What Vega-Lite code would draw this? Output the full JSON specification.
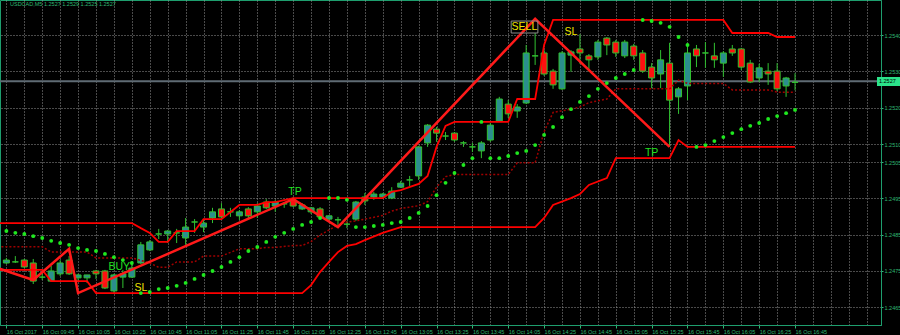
{
  "$schema": "https://vega.github.io/schema/vega-lite/v6.json",
  "width": 881,
  "height": 325,
  "padding": {"left": 0, "top": 0, "right": 19, "bottom": 10},
  "autosize": {"type": "none"},
  "background": "#000000",
  "title": {"text": "USDCAD,M5 1.2527 1.2529 1.2525 1.2527", "anchor": "start", "orient": "top", "frame": "group", "offset": 0, "dx": 10, "dy": 7, "font": "Liberation Sans", "fontSize": 5.5, "fontWeight": "normal", "color": "#2FB872"},
  "config": {"view": {"stroke": "#1E9E6E", "strokeWidth": 1}},
  "datasets": {
    "candles": [
      {"t":"2017-10-16T09:25","o":1.24772,"h":1.24786,"l":1.24769,"c":1.24780},
      {"t":"2017-10-16T09:30","o":1.24775,"h":1.24791,"l":1.24772,"c":1.24775},
      {"t":"2017-10-16T09:35","o":1.24780,"h":1.24783,"l":1.24758,"c":1.24761},
      {"t":"2017-10-16T09:40","o":1.24772,"h":1.24783,"l":1.24714,"c":1.24722},
      {"t":"2017-10-16T09:45","o":1.24733,"h":1.24747,"l":1.24725,"c":1.24733},
      {"t":"2017-10-16T09:50","o":1.24722,"h":1.24764,"l":1.24720,"c":1.24750},
      {"t":"2017-10-16T09:55","o":1.24742,"h":1.24780,"l":1.24736,"c":1.24772},
      {"t":"2017-10-16T10:00","o":1.24780,"h":1.24791,"l":1.24739,"c":1.24742},
      {"t":"2017-10-16T10:05","o":1.24731,"h":1.24742,"l":1.24720,"c":1.24739},
      {"t":"2017-10-16T10:10","o":1.24731,"h":1.24739,"l":1.24717,"c":1.24739},
      {"t":"2017-10-16T10:15","o":1.24750,"h":1.24753,"l":1.24728,"c":1.24742},
      {"t":"2017-10-16T10:20","o":1.24750,"h":1.24753,"l":1.24700,"c":1.24703},
      {"t":"2017-10-16T10:25","o":1.24695,"h":1.24742,"l":1.24689,"c":1.24739},
      {"t":"2017-10-16T10:30","o":1.24733,"h":1.24753,"l":1.24703,"c":1.24742},
      {"t":"2017-10-16T10:35","o":1.24733,"h":1.24769,"l":1.24731,"c":1.24758},
      {"t":"2017-10-16T10:40","o":1.24772,"h":1.24830,"l":1.24769,"c":1.24822},
      {"t":"2017-10-16T10:45","o":1.24808,"h":1.24835,"l":1.24805,"c":1.24830},
      {"t":"2017-10-16T10:50","o":1.24852,"h":1.24866,"l":1.24838,"c":1.24852},
      {"t":"2017-10-16T10:55","o":1.24852,"h":1.24863,"l":1.24827,"c":1.24860},
      {"t":"2017-10-16T11:00","o":1.24855,"h":1.24866,"l":1.24827,"c":1.24855},
      {"t":"2017-10-16T11:05","o":1.24841,"h":1.24896,"l":1.24822,"c":1.24871},
      {"t":"2017-10-16T11:10","o":1.24885,"h":1.24893,"l":1.24855,"c":1.24885},
      {"t":"2017-10-16T11:15","o":1.24871,"h":1.24891,"l":1.24857,"c":1.24882},
      {"t":"2017-10-16T11:20","o":1.24896,"h":1.24924,"l":1.24882,"c":1.24913},
      {"t":"2017-10-16T11:25","o":1.24921,"h":1.24937,"l":1.24896,"c":1.24899},
      {"t":"2017-10-16T11:30","o":1.24913,"h":1.24924,"l":1.24899,"c":1.24913},
      {"t":"2017-10-16T11:35","o":1.24902,"h":1.24918,"l":1.24891,"c":1.24913},
      {"t":"2017-10-16T11:40","o":1.24921,"h":1.24926,"l":1.24896,"c":1.24902},
      {"t":"2017-10-16T11:45","o":1.24913,"h":1.24937,"l":1.24896,"c":1.24929},
      {"t":"2017-10-16T11:50","o":1.24940,"h":1.24948,"l":1.24921,"c":1.24924},
      {"t":"2017-10-16T11:55","o":1.24929,"h":1.24946,"l":1.24913,"c":1.24940},
      {"t":"2017-10-16T12:00","o":1.24935,"h":1.24940,"l":1.24924,"c":1.24935},
      {"t":"2017-10-16T12:05","o":1.24946,"h":1.24954,"l":1.24926,"c":1.24929},
      {"t":"2017-10-16T12:10","o":1.24921,"h":1.24937,"l":1.24918,"c":1.24932},
      {"t":"2017-10-16T12:15","o":1.24913,"h":1.24926,"l":1.24907,"c":1.24924},
      {"t":"2017-10-16T12:20","o":1.24921,"h":1.24926,"l":1.24896,"c":1.24899},
      {"t":"2017-10-16T12:25","o":1.24893,"h":1.24904,"l":1.24888,"c":1.24902},
      {"t":"2017-10-16T12:30","o":1.24891,"h":1.24899,"l":1.24871,"c":1.24891},
      {"t":"2017-10-16T12:35","o":1.24879,"h":1.24888,"l":1.24868,"c":1.24879},
      {"t":"2017-10-16T12:40","o":1.24893,"h":1.24943,"l":1.24888,"c":1.24940},
      {"t":"2017-10-16T12:45","o":1.24954,"h":1.24965,"l":1.24932,"c":1.24943},
      {"t":"2017-10-16T12:50","o":1.24954,"h":1.24968,"l":1.24946,"c":1.24962},
      {"t":"2017-10-16T12:55","o":1.24954,"h":1.24965,"l":1.24951,"c":1.24962},
      {"t":"2017-10-16T13:00","o":1.24951,"h":1.24981,"l":1.24948,"c":1.24970},
      {"t":"2017-10-16T13:05","o":1.24981,"h":1.24998,"l":1.24979,"c":1.24992},
      {"t":"2017-10-16T13:10","o":1.25001,"h":1.25012,"l":1.24984,"c":1.25001},
      {"t":"2017-10-16T13:15","o":1.25012,"h":1.25095,"l":1.25001,"c":1.25092},
      {"t":"2017-10-16T13:20","o":1.25103,"h":1.25155,"l":1.25092,"c":1.25152},
      {"t":"2017-10-16T13:25","o":1.25141,"h":1.25147,"l":1.25106,"c":1.25130},
      {"t":"2017-10-16T13:30","o":1.25122,"h":1.25133,"l":1.25111,"c":1.25122},
      {"t":"2017-10-16T13:35","o":1.25130,"h":1.25133,"l":1.25106,"c":1.25111},
      {"t":"2017-10-16T13:40","o":1.25103,"h":1.25108,"l":1.25092,"c":1.25103},
      {"t":"2017-10-16T13:45","o":1.25092,"h":1.25103,"l":1.25078,"c":1.25092},
      {"t":"2017-10-16T13:50","o":1.25081,"h":1.25108,"l":1.25061,"c":1.25103},
      {"t":"2017-10-16T13:55","o":1.25111,"h":1.25158,"l":1.25106,"c":1.25152},
      {"t":"2017-10-16T14:00","o":1.25163,"h":1.25230,"l":1.25161,"c":1.25224},
      {"t":"2017-10-16T14:05","o":1.25210,"h":1.25221,"l":1.25172,"c":1.25183},
      {"t":"2017-10-16T14:10","o":1.25191,"h":1.25210,"l":1.25172,"c":1.25202},
      {"t":"2017-10-16T14:15","o":1.25213,"h":1.25373,"l":1.25210,"c":1.25351},
      {"t":"2017-10-16T14:20","o":1.25343,"h":1.25406,"l":1.25318,"c":1.25343},
      {"t":"2017-10-16T14:25","o":1.25351,"h":1.25359,"l":1.25288,"c":1.25293},
      {"t":"2017-10-16T14:30","o":1.25301,"h":1.25307,"l":1.25252,"c":1.25263},
      {"t":"2017-10-16T14:35","o":1.25252,"h":1.25356,"l":1.25249,"c":1.25351},
      {"t":"2017-10-16T14:40","o":1.25345,"h":1.25359,"l":1.25299,"c":1.25354},
      {"t":"2017-10-16T14:45","o":1.25362,"h":1.25403,"l":1.25321,"c":1.25351},
      {"t":"2017-10-16T14:50","o":1.25343,"h":1.25348,"l":1.25299,"c":1.25332},
      {"t":"2017-10-16T14:55","o":1.25340,"h":1.25387,"l":1.25332,"c":1.25381},
      {"t":"2017-10-16T15:00","o":1.25392,"h":1.25395,"l":1.25345,"c":1.25373},
      {"t":"2017-10-16T15:05","o":1.25381,"h":1.25387,"l":1.25340,"c":1.25351},
      {"t":"2017-10-16T15:10","o":1.25343,"h":1.25387,"l":1.25337,"c":1.25381},
      {"t":"2017-10-16T15:15","o":1.25370,"h":1.25376,"l":1.25332,"c":1.25343},
      {"t":"2017-10-16T15:20","o":1.25351,"h":1.25359,"l":1.25296,"c":1.25301},
      {"t":"2017-10-16T15:25","o":1.25312,"h":1.25323,"l":1.25254,"c":1.25282},
      {"t":"2017-10-16T15:30","o":1.25293,"h":1.25359,"l":1.25254,"c":1.25332},
      {"t":"2017-10-16T15:35","o":1.25323,"h":1.25379,"l":1.25092,"c":1.25221},
      {"t":"2017-10-16T15:40","o":1.25230,"h":1.25257,"l":1.25183,"c":1.25252},
      {"t":"2017-10-16T15:45","o":1.25260,"h":1.25373,"l":1.25221,"c":1.25351},
      {"t":"2017-10-16T15:50","o":1.25362,"h":1.25373,"l":1.25312,"c":1.25343},
      {"t":"2017-10-16T15:55","o":1.25351,"h":1.25381,"l":1.25310,"c":1.25351},
      {"t":"2017-10-16T16:00","o":1.25343,"h":1.25379,"l":1.25310,"c":1.25332},
      {"t":"2017-10-16T16:05","o":1.25323,"h":1.25356,"l":1.25285,"c":1.25351},
      {"t":"2017-10-16T16:10","o":1.25362,"h":1.25373,"l":1.25343,"c":1.25351},
      {"t":"2017-10-16T16:15","o":1.25362,"h":1.25365,"l":1.25304,"c":1.25312},
      {"t":"2017-10-16T16:20","o":1.25323,"h":1.25332,"l":1.25268,"c":1.25271},
      {"t":"2017-10-16T16:25","o":1.25282,"h":1.25321,"l":1.25271,"c":1.25310},
      {"t":"2017-10-16T16:30","o":1.25301,"h":1.25323,"l":1.25263,"c":1.25293},
      {"t":"2017-10-16T16:35","o":1.25301,"h":1.25323,"l":1.25246,"c":1.25252},
      {"t":"2017-10-16T16:40","o":1.25260,"h":1.25285,"l":1.25230,"c":1.25282},
      {"t":"2017-10-16T16:45","o":1.25270,"h":1.25295,"l":1.25248,"c":1.25270}
    ],
    "sar": [
      {"t":"2017-10-16T09:25","p":1.24860},{"t":"2017-10-16T09:30","p":1.24855},{"t":"2017-10-16T09:35","p":1.24852},{"t":"2017-10-16T09:40","p":1.24846},
      {"t":"2017-10-16T09:45","p":1.24841},{"t":"2017-10-16T09:50","p":1.24833},{"t":"2017-10-16T09:55","p":1.24827},{"t":"2017-10-16T10:00","p":1.24822},
      {"t":"2017-10-16T10:05","p":1.24813},{"t":"2017-10-16T10:10","p":1.24808},{"t":"2017-10-16T10:15","p":1.24805},{"t":"2017-10-16T10:20","p":1.24797},
      {"t":"2017-10-16T10:25","p":1.24788},{"t":"2017-10-16T10:30","p":1.24780},{"t":"2017-10-16T10:35","p":1.24772},{"t":"2017-10-16T10:40","p":1.24689},
      {"t":"2017-10-16T10:45","p":1.24692},{"t":"2017-10-16T10:50","p":1.24700},{"t":"2017-10-16T10:55","p":1.24703},{"t":"2017-10-16T11:00","p":1.24709},
      {"t":"2017-10-16T11:05","p":1.24717},{"t":"2017-10-16T11:10","p":1.24728},{"t":"2017-10-16T11:15","p":1.24739},{"t":"2017-10-16T11:20","p":1.24750},
      {"t":"2017-10-16T11:25","p":1.24761},{"t":"2017-10-16T11:30","p":1.24775},{"t":"2017-10-16T11:35","p":1.24788},{"t":"2017-10-16T11:40","p":1.24805},
      {"t":"2017-10-16T11:45","p":1.24816},{"t":"2017-10-16T11:50","p":1.24830},{"t":"2017-10-16T11:55","p":1.24844},{"t":"2017-10-16T12:00","p":1.24855},
      {"t":"2017-10-16T12:05","p":1.24866},{"t":"2017-10-16T12:10","p":1.24877},{"t":"2017-10-16T12:15","p":1.24885},{"t":"2017-10-16T12:20","p":1.24896},
      {"t":"2017-10-16T12:25","p":1.24951},{"t":"2017-10-16T12:30","p":1.24951},{"t":"2017-10-16T12:35","p":1.24946},{"t":"2017-10-16T12:40","p":1.24871},
      {"t":"2017-10-16T12:45","p":1.24871},{"t":"2017-10-16T12:50","p":1.24874},{"t":"2017-10-16T12:55","p":1.24877},{"t":"2017-10-16T13:00","p":1.24882},
      {"t":"2017-10-16T13:05","p":1.24885},{"t":"2017-10-16T13:10","p":1.24896},{"t":"2017-10-16T13:15","p":1.24910},{"t":"2017-10-16T13:20","p":1.24929},
      {"t":"2017-10-16T13:25","p":1.24959},{"t":"2017-10-16T13:30","p":1.24993},{"t":"2017-10-16T13:35","p":1.25020},{"t":"2017-10-16T13:40","p":1.25042},
      {"t":"2017-10-16T13:45","p":1.25061},{"t":"2017-10-16T13:50","p":1.25161},{"t":"2017-10-16T13:55","p":1.25061},{"t":"2017-10-16T14:00","p":1.25061},
      {"t":"2017-10-16T14:05","p":1.25067},{"t":"2017-10-16T14:10","p":1.25075},{"t":"2017-10-16T14:15","p":1.25081},{"t":"2017-10-16T14:20","p":1.25097},
      {"t":"2017-10-16T14:25","p":1.25125},{"t":"2017-10-16T14:30","p":1.25147},{"t":"2017-10-16T14:35","p":1.25174},{"t":"2017-10-16T14:40","p":1.25196},
      {"t":"2017-10-16T14:45","p":1.25216},{"t":"2017-10-16T14:50","p":1.25232},{"t":"2017-10-16T14:55","p":1.25252},{"t":"2017-10-16T15:00","p":1.25268},
      {"t":"2017-10-16T15:05","p":1.25282},{"t":"2017-10-16T15:10","p":1.25293},{"t":"2017-10-16T15:15","p":1.25304},{"t":"2017-10-16T15:20","p":1.25442},
      {"t":"2017-10-16T15:25","p":1.25439},{"t":"2017-10-16T15:30","p":1.25434},{"t":"2017-10-16T15:35","p":1.25423},{"t":"2017-10-16T15:40","p":1.25395},
      {"t":"2017-10-16T15:45","p":1.25373},{"t":"2017-10-16T15:50","p":1.25092},{"t":"2017-10-16T15:55","p":1.25097},{"t":"2017-10-16T16:00","p":1.25108},
      {"t":"2017-10-16T16:05","p":1.25119},{"t":"2017-10-16T16:10","p":1.25130},{"t":"2017-10-16T16:15","p":1.25141},{"t":"2017-10-16T16:20","p":1.25150},
      {"t":"2017-10-16T16:25","p":1.25158},{"t":"2017-10-16T16:30","p":1.25169},{"t":"2017-10-16T16:35","p":1.25177},{"t":"2017-10-16T16:40","p":1.25185},
      {"t":"2017-10-16T16:45","p":1.25194}
    ],
    "up": [
      {"t":"2017-10-16T09:20","p":1.24882},{"t":"2017-10-16T10:35","p":1.24882},{"t":"2017-10-16T10:40","p":1.24868},{"t":"2017-10-16T10:45","p":1.24855},
      {"t":"2017-10-16T10:50","p":1.24830},{"t":"2017-10-16T10:55","p":1.24830},{"t":"2017-10-16T11:00","p":1.24860},{"t":"2017-10-16T11:10","p":1.24860},
      {"t":"2017-10-16T11:15","p":1.24893},{"t":"2017-10-16T11:25","p":1.24893},{"t":"2017-10-16T11:35","p":1.24932},{"t":"2017-10-16T11:45","p":1.24932},
      {"t":"2017-10-16T11:50","p":1.24940},{"t":"2017-10-16T11:55","p":1.24940},{"t":"2017-10-16T12:05","p":1.24951},{"t":"2017-10-16T12:55","p":1.24951},
      {"t":"2017-10-16T13:00","p":1.24968},{"t":"2017-10-16T13:05","p":1.24973},{"t":"2017-10-16T13:15","p":1.24990},{"t":"2017-10-16T13:20","p":1.25012},
      {"t":"2017-10-16T13:25","p":1.25092},{"t":"2017-10-16T13:30","p":1.25150},{"t":"2017-10-16T13:35","p":1.25161},{"t":"2017-10-16T14:05","p":1.25161},
      {"t":"2017-10-16T14:10","p":1.25224},{"t":"2017-10-16T14:20","p":1.25224},{"t":"2017-10-16T14:25","p":1.25373},{"t":"2017-10-16T14:30","p":1.25442},
      {"t":"2017-10-16T16:05","p":1.25442},{"t":"2017-10-16T16:10","p":1.25406},{"t":"2017-10-16T16:30","p":1.25406},{"t":"2017-10-16T16:35","p":1.25395},
      {"t":"2017-10-16T16:45","p":1.25395}
    ],
    "lo": [
      {"t":"2017-10-16T09:20","p":1.24753},{"t":"2017-10-16T09:45","p":1.24753},{"t":"2017-10-16T09:50","p":1.24722},{"t":"2017-10-16T10:10","p":1.24722},
      {"t":"2017-10-16T10:15","p":1.24689},{"t":"2017-10-16T12:10","p":1.24689},{"t":"2017-10-16T12:15","p":1.24711},{"t":"2017-10-16T12:20","p":1.24747},
      {"t":"2017-10-16T12:25","p":1.24775},{"t":"2017-10-16T12:30","p":1.24802},{"t":"2017-10-16T12:35","p":1.24819},{"t":"2017-10-16T12:40","p":1.24824},
      {"t":"2017-10-16T12:45","p":1.24835},{"t":"2017-10-16T12:55","p":1.24855},{"t":"2017-10-16T13:05","p":1.24871},{"t":"2017-10-16T14:20","p":1.24871},
      {"t":"2017-10-16T14:25","p":1.24896},{"t":"2017-10-16T14:30","p":1.24932},{"t":"2017-10-16T14:40","p":1.24951},{"t":"2017-10-16T14:45","p":1.24962},
      {"t":"2017-10-16T14:50","p":1.24987},{"t":"2017-10-16T15:00","p":1.25006},{"t":"2017-10-16T15:05","p":1.25061},{"t":"2017-10-16T15:35","p":1.25061},
      {"t":"2017-10-16T15:40","p":1.25111},{"t":"2017-10-16T15:45","p":1.25092},{"t":"2017-10-16T16:45","p":1.25092}
    ],
    "mid": [
      {"t":"2017-10-16T09:20","p":1.24817},{"t":"2017-10-16T09:45","p":1.24817},{"t":"2017-10-16T09:50","p":1.24802},{"t":"2017-10-16T10:10","p":1.24802},
      {"t":"2017-10-16T10:15","p":1.24786},{"t":"2017-10-16T10:35","p":1.24786},{"t":"2017-10-16T10:40","p":1.24779},{"t":"2017-10-16T10:45","p":1.24772},
      {"t":"2017-10-16T10:50","p":1.24760},{"t":"2017-10-16T10:55","p":1.24760},{"t":"2017-10-16T11:00","p":1.24775},{"t":"2017-10-16T11:10","p":1.24775},
      {"t":"2017-10-16T11:15","p":1.24791},{"t":"2017-10-16T11:25","p":1.24791},{"t":"2017-10-16T11:35","p":1.24811},{"t":"2017-10-16T11:45","p":1.24811},
      {"t":"2017-10-16T11:50","p":1.24815},{"t":"2017-10-16T11:55","p":1.24815},{"t":"2017-10-16T12:05","p":1.24820},{"t":"2017-10-16T12:10","p":1.24820},
      {"t":"2017-10-16T12:15","p":1.24831},{"t":"2017-10-16T12:20","p":1.24849},{"t":"2017-10-16T12:25","p":1.24863},{"t":"2017-10-16T12:30","p":1.24877},
      {"t":"2017-10-16T12:35","p":1.24885},{"t":"2017-10-16T12:40","p":1.24888},{"t":"2017-10-16T12:45","p":1.24893},{"t":"2017-10-16T12:55","p":1.24903},
      {"t":"2017-10-16T13:00","p":1.24915},{"t":"2017-10-16T13:05","p":1.24922},{"t":"2017-10-16T13:15","p":1.24930},{"t":"2017-10-16T13:20","p":1.24941},
      {"t":"2017-10-16T13:25","p":1.24981},{"t":"2017-10-16T13:30","p":1.25010},{"t":"2017-10-16T13:35","p":1.25016},{"t":"2017-10-16T14:05","p":1.25016},
      {"t":"2017-10-16T14:10","p":1.25048},{"t":"2017-10-16T14:20","p":1.25048},{"t":"2017-10-16T14:25","p":1.25134},{"t":"2017-10-16T14:30","p":1.25187},
      {"t":"2017-10-16T14:40","p":1.25196},{"t":"2017-10-16T14:45","p":1.25202},{"t":"2017-10-16T14:50","p":1.25214},{"t":"2017-10-16T15:00","p":1.25224},
      {"t":"2017-10-16T15:05","p":1.25252},{"t":"2017-10-16T15:35","p":1.25252},{"t":"2017-10-16T15:40","p":1.25276},{"t":"2017-10-16T15:45","p":1.25267},
      {"t":"2017-10-16T16:05","p":1.25267},{"t":"2017-10-16T16:10","p":1.25249},{"t":"2017-10-16T16:30","p":1.25249},{"t":"2017-10-16T16:35","p":1.25243},
      {"t":"2017-10-16T16:45","p":1.25243}
    ],
    "trade": [
      {"t":"2017-10-16T09:20","p":1.24758},{"t":"2017-10-16T09:40","p":1.24725},{"t":"2017-10-16T10:00","p":1.24811},{"t":"2017-10-16T10:05","p":1.24689},
      {"t":"2017-10-16T12:05","p":1.24948},{"t":"2017-10-16T12:30","p":1.24871},{"t":"2017-10-16T14:20","p":1.25445},{"t":"2017-10-16T15:35","p":1.25092}
    ],
    "labels": [
      {"t":"2017-10-16T10:28","p":1.24762,"txt":"BUY"},
      {"t":"2017-10-16T10:40","p":1.24702,"txt":"SL"},
      {"t":"2017-10-16T12:06","p":1.24969,"txt":"TP"},
      {"t":"2017-10-16T14:14","p":1.25423,"txt":"SELL"},
      {"t":"2017-10-16T14:40","p":1.25410,"txt":"SL"},
      {"t":"2017-10-16T15:25","p":1.25075,"txt":"TP"}
    ]
  },
  "layer": [
    {
      "data": {"values": [{}]},
      "mark": {"type": "rule", "color": "#5F6B74", "strokeWidth": 2},
      "encoding": {
        "y": {"datum": 1.25273, "type": "quantitative", "title": null, "scale": {"domain": [1.24601, 1.25497], "nice": false, "zero": false}}
      }
    },
    {
      "data": {"name": "candles"},
      "mark": {"type": "rule", "color": "#31C131", "strokeWidth": 1},
      "encoding": {
        "x": {"field": "t", "type": "temporal", "title": null,
          "scale": {"domain": [{"year":2017,"month":10,"date":16,"hours":9,"minutes":24,"seconds":14},{"year":2017,"month":10,"date":16,"hours":17,"minutes":30,"seconds":10}], "nice": false},
          "axis": {"orient": "bottom", "title": null, "tickCount": 100,
            "values": [
              {"year":2017,"month":10,"date":16,"hours":9,"minutes":25},{"year":2017,"month":10,"date":16,"hours":9,"minutes":35},{"year":2017,"month":10,"date":16,"hours":9,"minutes":45},{"year":2017,"month":10,"date":16,"hours":9,"minutes":55},
              {"year":2017,"month":10,"date":16,"hours":10,"minutes":5},{"year":2017,"month":10,"date":16,"hours":10,"minutes":15},{"year":2017,"month":10,"date":16,"hours":10,"minutes":25},{"year":2017,"month":10,"date":16,"hours":10,"minutes":35},{"year":2017,"month":10,"date":16,"hours":10,"minutes":45},{"year":2017,"month":10,"date":16,"hours":10,"minutes":55},
              {"year":2017,"month":10,"date":16,"hours":11,"minutes":5},{"year":2017,"month":10,"date":16,"hours":11,"minutes":15},{"year":2017,"month":10,"date":16,"hours":11,"minutes":25},{"year":2017,"month":10,"date":16,"hours":11,"minutes":35},{"year":2017,"month":10,"date":16,"hours":11,"minutes":45},{"year":2017,"month":10,"date":16,"hours":11,"minutes":55},
              {"year":2017,"month":10,"date":16,"hours":12,"minutes":5},{"year":2017,"month":10,"date":16,"hours":12,"minutes":15},{"year":2017,"month":10,"date":16,"hours":12,"minutes":25},{"year":2017,"month":10,"date":16,"hours":12,"minutes":35},{"year":2017,"month":10,"date":16,"hours":12,"minutes":45},{"year":2017,"month":10,"date":16,"hours":12,"minutes":55},
              {"year":2017,"month":10,"date":16,"hours":13,"minutes":5},{"year":2017,"month":10,"date":16,"hours":13,"minutes":15},{"year":2017,"month":10,"date":16,"hours":13,"minutes":25},{"year":2017,"month":10,"date":16,"hours":13,"minutes":35},{"year":2017,"month":10,"date":16,"hours":13,"minutes":45},{"year":2017,"month":10,"date":16,"hours":13,"minutes":55},
              {"year":2017,"month":10,"date":16,"hours":14,"minutes":5},{"year":2017,"month":10,"date":16,"hours":14,"minutes":15},{"year":2017,"month":10,"date":16,"hours":14,"minutes":25},{"year":2017,"month":10,"date":16,"hours":14,"minutes":35},{"year":2017,"month":10,"date":16,"hours":14,"minutes":45},{"year":2017,"month":10,"date":16,"hours":14,"minutes":55},
              {"year":2017,"month":10,"date":16,"hours":15,"minutes":5},{"year":2017,"month":10,"date":16,"hours":15,"minutes":15},{"year":2017,"month":10,"date":16,"hours":15,"minutes":25},{"year":2017,"month":10,"date":16,"hours":15,"minutes":35},{"year":2017,"month":10,"date":16,"hours":15,"minutes":45},{"year":2017,"month":10,"date":16,"hours":15,"minutes":55},
              {"year":2017,"month":10,"date":16,"hours":16,"minutes":5},{"year":2017,"month":10,"date":16,"hours":16,"minutes":15},{"year":2017,"month":10,"date":16,"hours":16,"minutes":25},{"year":2017,"month":10,"date":16,"hours":16,"minutes":35},{"year":2017,"month":10,"date":16,"hours":16,"minutes":45},{"year":2017,"month":10,"date":16,"hours":16,"minutes":55},
              {"year":2017,"month":10,"date":16,"hours":17,"minutes":5},{"year":2017,"month":10,"date":16,"hours":17,"minutes":15},{"year":2017,"month":10,"date":16,"hours":17,"minutes":25}
            ],
            "labelExpr": "hours(datum.value) == 9 && minutes(datum.value) == 25 ? '16 Oct 2017' : ((minutes(datum.value) % 20 == 5 && datum.value <= datetime(2017, 9, 16, 16, 45)) ? timeFormat(datum.value, '%d %b %H:%M') : '')",
            "labelAlign": "left", "labelBaseline": "top", "labelFont": "Liberation Sans", "labelFontSize": 5.5,
            "labelColor": "#2FB872", "labelPadding": 1, "labelOverlap": false, "labelFlush": false,
            "tickSize": 3, "tickColor": "#2FB872",
            "tickOpacity": {"condition": {"test": "minutes(datum.value) % 20 == 5 && datum.value <= datetime(2017, 9, 16, 16, 45)", "value": 1}, "value": 0},
            "domainColor": "#1E9E6E", "domainWidth": 1,
            "grid": true, "gridColor": "#959595", "gridDash": [1, 2], "gridOpacity": 1, "gridWidth": 1}
        },
        "y": {"field": "l", "type": "quantitative", "title": null,
          "scale": {"domain": [1.24601, 1.25497], "nice": false, "zero": false},
          "axis": {"orient": "right", "title": null, "tickCount": 30,
            "values": [1.2465, 1.2475, 1.2485, 1.2495, 1.2505, 1.251, 1.252, 1.253, 1.254],
            "format": ".4f", "labelColor": "#2FB872", "labelFont": "Liberation Sans", "labelFontSize": 5.5,
            "labelPadding": 1, "labelOverlap": false, "labelFlush": false, "tickSize": 2, "tickColor": "#2FB872",
            "domainColor": "#1E9E6E", "domainWidth": 1,
            "grid": true, "gridColor": "#959595", "gridDash": [1, 2], "gridOpacity": 1, "gridWidth": 1}
        },
        "y2": {"field": "h"}
      }
    },
    {
      "data": {"name": "candles"},
      "mark": {"type": "bar", "size": 6, "stroke": "#31C131", "strokeWidth": 1, "clip": true},
      "encoding": {
        "x": {"field": "t", "type": "temporal", "title": null, "scale": {"domain": [{"year":2017,"month":10,"date":16,"hours":9,"minutes":24,"seconds":14},{"year":2017,"month":10,"date":16,"hours":17,"minutes":30,"seconds":10}], "nice": false}},
        "y": {"field": "o", "type": "quantitative", "title": null, "scale": {"domain": [1.24601, 1.25497], "nice": false, "zero": false}},
        "y2": {"field": "c"},
        "fill": {"condition": [{"test": "datum.c > datum.o", "value": "#2B8E8E"}, {"test": "datum.c < datum.o", "value": "#FF1010"}], "value": "transparent"}
      }
    },
    {
      "data": {"name": "mid"},
      "mark": {"type": "line", "clip": true, "color": "#A00000", "strokeWidth": 1.5, "strokeDash": [2, 2]},
      "encoding": {
        "x": {"field": "t", "type": "temporal", "title": null, "scale": {"domain": [{"year":2017,"month":10,"date":16,"hours":9,"minutes":24,"seconds":14},{"year":2017,"month":10,"date":16,"hours":17,"minutes":30,"seconds":10}], "nice": false}},
        "y": {"field": "p", "type": "quantitative", "title": null, "scale": {"domain": [1.24601, 1.25497], "nice": false, "zero": false}}
      }
    },
    {
      "data": {"name": "up"},
      "mark": {"type": "line", "clip": true, "color": "#FF0000", "strokeWidth": 1.8},
      "encoding": {
        "x": {"field": "t", "type": "temporal", "title": null, "scale": {"domain": [{"year":2017,"month":10,"date":16,"hours":9,"minutes":24,"seconds":14},{"year":2017,"month":10,"date":16,"hours":17,"minutes":30,"seconds":10}], "nice": false}},
        "y": {"field": "p", "type": "quantitative", "title": null, "scale": {"domain": [1.24601, 1.25497], "nice": false, "zero": false}}
      }
    },
    {
      "data": {"name": "lo"},
      "mark": {"type": "line", "clip": true, "color": "#FF0000", "strokeWidth": 1.8},
      "encoding": {
        "x": {"field": "t", "type": "temporal", "title": null, "scale": {"domain": [{"year":2017,"month":10,"date":16,"hours":9,"minutes":24,"seconds":14},{"year":2017,"month":10,"date":16,"hours":17,"minutes":30,"seconds":10}], "nice": false}},
        "y": {"field": "p", "type": "quantitative", "title": null, "scale": {"domain": [1.24601, 1.25497], "nice": false, "zero": false}}
      }
    },
    {
      "data": {"name": "trade"},
      "mark": {"type": "line", "clip": true, "color": "#FF1A1A", "strokeWidth": 2.5},
      "encoding": {
        "x": {"field": "t", "type": "temporal", "title": null, "scale": {"domain": [{"year":2017,"month":10,"date":16,"hours":9,"minutes":24,"seconds":14},{"year":2017,"month":10,"date":16,"hours":17,"minutes":30,"seconds":10}], "nice": false}},
        "y": {"field": "p", "type": "quantitative", "title": null, "scale": {"domain": [1.24601, 1.25497], "nice": false, "zero": false}}
      }
    },
    {
      "data": {"name": "sar"},
      "mark": {"type": "point", "shape": "circle", "filled": true, "size": 15, "color": "#1FE81F", "opacity": 1, "clip": true},
      "encoding": {
        "x": {"field": "t", "type": "temporal", "title": null, "scale": {"domain": [{"year":2017,"month":10,"date":16,"hours":9,"minutes":24,"seconds":14},{"year":2017,"month":10,"date":16,"hours":17,"minutes":30,"seconds":10}], "nice": false}},
        "y": {"field": "p", "type": "quantitative", "title": null, "scale": {"domain": [1.24601, 1.25497], "nice": false, "zero": false}}
      }
    },
    {
      "data": {"values": [{}]},
      "mark": {"type": "bar", "fill": "transparent", "stroke": "#8C8C8C", "strokeWidth": 1},
      "encoding": {
        "x": {"datum": {"year":2017,"month":10,"date":16,"hours":14,"minutes":6,"seconds":38}, "type": "temporal", "title": null, "scale": {"domain": [{"year":2017,"month":10,"date":16,"hours":9,"minutes":24,"seconds":14},{"year":2017,"month":10,"date":16,"hours":17,"minutes":30,"seconds":10}], "nice": false}},
        "x2": {"datum": {"year":2017,"month":10,"date":16,"hours":14,"minutes":21,"seconds":32}},
        "y": {"datum": 1.25439, "type": "quantitative", "title": null, "scale": {"domain": [1.24601, 1.25497], "nice": false, "zero": false}},
        "y2": {"datum": 1.25406}
      }
    },
    {
      "data": {"name": "labels"},
      "mark": {"type": "text", "font": "Liberation Sans", "fontSize": 10.5, "align": "center", "baseline": "middle"},
      "encoding": {
        "x": {"field": "t", "type": "temporal", "title": null, "scale": {"domain": [{"year":2017,"month":10,"date":16,"hours":9,"minutes":24,"seconds":14},{"year":2017,"month":10,"date":16,"hours":17,"minutes":30,"seconds":10}], "nice": false}},
        "y": {"field": "p", "type": "quantitative", "title": null, "scale": {"domain": [1.24601, 1.25497], "nice": false, "zero": false}},
        "text": {"field": "txt"},
        "color": {"condition": {"test": "datum.txt == 'SELL' || datum.txt == 'SL'", "value": "#F2E600"}, "value": "#22E022"}
      }
    },
    {
      "data": {"values": [{}]},
      "mark": {"type": "bar", "color": "#2BE38A"},
      "encoding": {
        "x": {"datum": {"year":2017,"month":10,"date":16,"hours":17,"minutes":30,"seconds":43}, "type": "temporal", "title": null, "scale": {"domain": [{"year":2017,"month":10,"date":16,"hours":9,"minutes":24,"seconds":14},{"year":2017,"month":10,"date":16,"hours":17,"minutes":30,"seconds":10}], "nice": false}},
        "x2": {"datum": {"year":2017,"month":10,"date":16,"hours":17,"minutes":50}},
        "y": {"datum": 1.25285, "type": "quantitative", "title": null, "scale": {"domain": [1.24601, 1.25497], "nice": false, "zero": false}},
        "y2": {"datum": 1.25260}
      }
    },
    {
      "data": {"values": [{}]},
      "mark": {"type": "text", "text": "1.2527", "font": "Liberation Sans", "fontSize": 5.5, "align": "left", "baseline": "middle", "color": "#000000"},
      "encoding": {
        "x": {"datum": {"year":2017,"month":10,"date":16,"hours":17,"minutes":31,"seconds":48}, "type": "temporal", "title": null, "scale": {"domain": [{"year":2017,"month":10,"date":16,"hours":9,"minutes":24,"seconds":14},{"year":2017,"month":10,"date":16,"hours":17,"minutes":30,"seconds":10}], "nice": false}},
        "y": {"datum": 1.252725, "type": "quantitative", "title": null, "scale": {"domain": [1.24601, 1.25497], "nice": false, "zero": false}}
      }
    }
  ]
}
